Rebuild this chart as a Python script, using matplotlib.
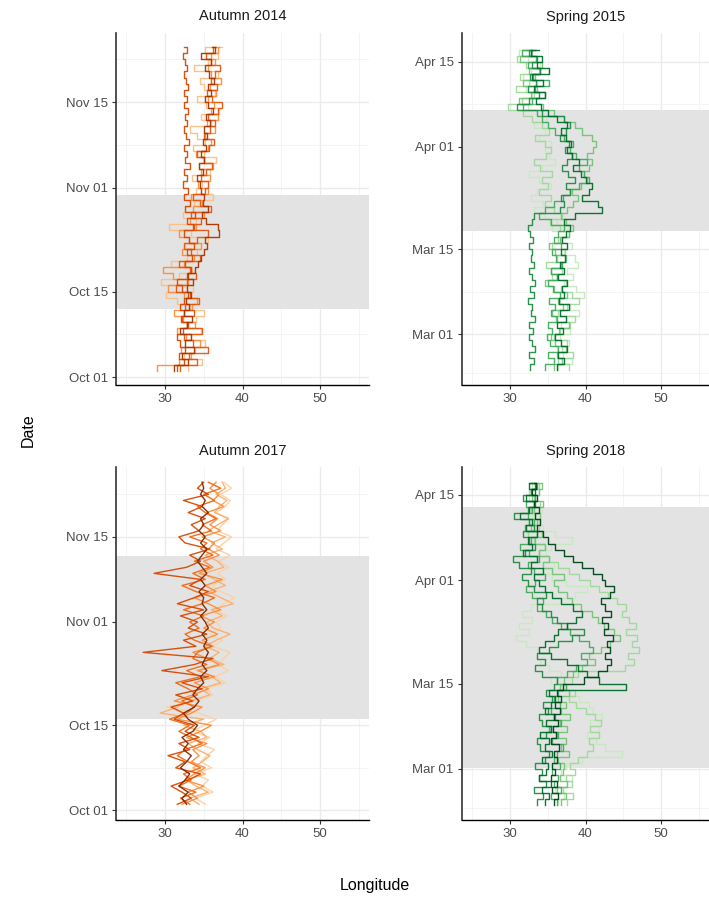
import numpy as np
import pandas as pd
import matplotlib
matplotlib.use("Agg")
import matplotlib.pyplot as plt
import matplotlib.dates as mdates

plt.rcParams['font.family'] = ['Liberation Sans', 'DejaVu Sans']

# ---------------- data: daily longitude per tracked bird ----------------
# Autumn 2014, Oct 02 - Nov 24
aut14_start = '2014-10-02'
aut14_colors = ['#FDBE85', '#FD8D3C', '#E6550D', '#D94801', '#A63603']
aut14_tracks = [
    [33.0, 34.8, 32.5, 33.9, 35.2, 33.3, 34.6, 32.8, 34.0,
     35.0, 33.2, 31.5, 30.2, 33.6, 29.5, 31.8, 33.5, 30.8, 32.9,
     34.2, 32.6, 35.5, 33.4, 30.5, 34.0, 32.3, 35.6, 33.8, 36.2, 34.0,
     34.8, 33.5, 35.8, 34.4, 36.6, 35.0, 33.6, 35.2, 34.1, 33.2,
     36.0, 34.6, 37.0, 35.3, 34.2, 36.4, 35.1, 34.5, 36.8, 33.8,
     35.6, 36.9, 35.2, 37.3],
    [29.0, 31.8, 33.4, 32.1, 34.5, 32.7, 31.5, 33.9, 32.3,
     31.2, 33.5, 34.2, 32.5, 30.4, 33.0, 31.0, 29.8, 32.5, 33.8,
     32.2, 34.6, 33.1, 31.8, 34.0, 33.2, 35.0, 33.6, 34.8, 33.4, 35.6,
     34.3, 35.8, 34.6, 36.2, 35.1, 34.0, 35.5, 36.0, 35.2, 36.5,
     35.4, 36.8, 35.9, 36.3, 35.5, 36.6, 35.8, 37.2, 36.0, 35.6,
     36.4, 35.9, 36.8, 37.0],
    [32.0, 34.2, 33.1, 35.5, 33.6, 32.4, 34.8, 33.0, 32.2,
     33.7, 32.6, 34.4, 33.2, 31.4, 32.8, 34.0, 33.2, 31.8, 34.5,
     33.4, 32.5, 34.1, 35.6, 33.8, 34.6, 33.3, 35.9, 34.5, 33.6, 35.2,
     35.6, 34.6, 35.3, 36.1, 35.0, 34.2, 35.7, 36.3, 35.1, 35.8,
     36.4, 35.6, 36.9, 37.3, 36.1, 35.4, 36.7, 35.9, 36.5, 37.1,
     36.0, 35.3, 36.2, 36.6],
    [31.5, 32.5, 31.8, 32.6, 32.0, 31.6, 32.3, 32.8, 32.1,
     32.5, 31.9, 32.4, 33.0, 32.2, 31.6, 32.8, 33.3, 32.6, 33.5,
     32.9, 33.8, 33.1, 32.4, 33.6, 32.8, 33.9, 32.6, 33.2, 32.5, 33.0,
     32.3, 32.8, 32.5, 33.2, 32.6, 32.9, 32.4, 33.1, 32.7, 32.4,
     32.9, 32.6, 33.0, 32.5, 32.8, 32.4, 33.0, 32.7, 32.5, 32.9,
     32.6, 32.3, 32.8, 32.4],
    [31.2, 33.0, 32.2, 33.8, 32.6, 33.4, 32.0, 32.9, 33.5,
     32.4, 33.1, 32.7, 33.3, 32.8, 33.6, 33.0, 33.9, 34.3, 34.6,
     35.0, 35.4, 35.2, 37.0, 36.8, 35.3, 34.8, 35.5, 34.9, 35.1, 34.6,
     34.5, 34.2, 34.9, 34.4, 35.0, 34.7, 35.3, 34.9, 35.4, 35.1,
     35.8, 35.3, 36.2, 35.6, 35.2, 36.0, 35.5, 36.3, 35.7, 35.2,
     35.9, 34.6, 36.4, 36.1],
]

# Spring 2015, Feb 23 - Apr 17
spr15_start = '2015-02-23'
spr15_colors = ['#C7E9C0', '#A1D99B', '#74C476', '#41AB5D', '#238B45', '#006D2C']
spr15_tracks = [
    [36.4, 38.2, 37.0, 36.2, 37.8, 36.6,
     38.0, 36.8, 37.4, 39.2, 38.0, 36.6, 39.8, 38.8, 37.2, 38.4,
     37.6, 39.0, 38.6, 37.2, 38.2, 36.8, 37.8, 35.6, 36.2, 34.6,
     33.2, 34.4, 32.8, 33.6, 35.4, 33.8, 32.6, 34.2, 36.0, 35.2, 34.6,
     35.4, 33.8, 34.6, 33.2, 34.8, 33.6, 32.4, 31.6, 33.0, 32.2,
     33.6, 31.8, 32.8, 34.0, 32.4, 31.2, 32.6],
    [37.8, 36.4, 38.4, 36.9, 37.5, 35.8,
     36.7, 37.9, 38.6, 36.4, 37.6, 39.2, 38.2, 36.8, 37.4, 35.6,
     36.9, 34.8, 36.2, 37.3, 35.6, 36.4, 37.8, 36.6, 35.3, 36.9,
     35.8, 34.6, 35.4, 33.8, 35.0, 34.2, 35.6, 34.0, 33.2, 34.8, 35.4,
     34.6, 33.4, 35.2, 34.2, 33.0, 31.8, 29.8, 31.6, 33.2, 30.8,
     32.6, 31.4, 33.8, 32.2, 31.0, 32.8, 31.6],
    [35.8, 36.9, 36.2, 37.4, 36.0, 35.4,
     36.5, 37.8, 36.1, 35.6, 37.0, 36.4, 37.6, 35.9, 34.7, 36.3,
     35.4, 36.8, 37.4, 36.0, 35.2, 36.6, 37.8, 38.4, 37.4, 36.8,
     37.6, 38.4, 39.0, 38.2, 39.4, 40.2, 39.8, 40.4, 40.8, 40.2, 41.0,
     41.4, 40.8, 39.6, 38.6, 37.2, 35.8, 34.4, 31.2, 32.8, 33.6,
     31.8, 33.4, 32.6, 34.2, 31.4, 33.0, 32.2],
    [34.6, 35.8, 35.0, 36.4, 35.3, 34.9,
     35.6, 35.1, 36.2, 35.4, 36.0, 35.2, 36.6, 35.7, 35.0, 36.3,
     35.5, 36.9, 36.1, 35.6, 36.8, 35.9, 36.4, 37.2, 35.4, 33.8,
     34.6, 35.8, 37.0, 38.0, 39.2, 40.4, 39.8, 39.2, 40.2, 38.8, 37.9,
     38.4, 37.2, 36.0, 35.1, 34.3, 33.6, 31.8, 32.9, 34.6, 33.4,
     35.2, 33.1, 34.0, 32.4, 33.5, 31.6, 33.0],
    [32.7, 33.2, 32.6, 33.4, 32.9, 32.5,
     33.1, 32.6, 33.3, 32.8, 33.0, 32.4, 33.2, 32.7, 33.4, 32.9,
     32.6, 33.2, 32.8, 33.0, 32.5, 33.1, 32.7, 32.4, 32.9, 33.2,
     36.6, 37.2, 36.8, 38.0, 37.4, 38.6, 37.7, 36.9, 37.5, 38.2, 37.3,
     37.8, 36.6, 37.4, 37.9, 37.1, 34.2, 30.9, 32.6, 33.8, 32.4,
     33.5, 32.7, 34.0, 32.9, 33.6, 32.5, 33.3],
    [36.2, 37.1, 36.4, 37.5, 36.8, 36.0,
     37.0, 36.3, 37.4, 36.7, 37.8, 36.5, 37.2, 36.9, 37.6, 36.4,
     37.1, 36.6, 37.3, 36.8, 37.5, 36.9, 37.4, 38.0, 37.2, 38.6,
     42.2, 41.6, 39.5, 40.4, 40.8, 40.0, 39.4, 38.4, 39.1, 38.2, 37.6,
     38.1, 37.4, 36.8, 37.5, 36.2, 35.0, 34.1, 33.5, 34.6, 33.2,
     34.4, 33.0, 35.2, 33.6, 34.3, 32.8, 33.9],
]

# Autumn 2017, Oct 02 - Nov 24
aut17_start = '2017-10-02'
aut17_colors = ['#FDD0A2', '#FDAE6B', '#FD8D3C', '#F16913', '#D94801', '#7F2704']
aut17_tracks = [
    [35.2, 34.0, 36.2, 34.8, 35.6, 33.8, 36.0, 34.6, 35.4,
     36.4, 34.2, 35.8, 33.6, 35.0, 36.6, 34.4, 30.2, 33.8, 36.2,
     35.4, 37.8, 36.4, 38.2, 36.8, 37.6, 38.4, 36.2, 37.4, 35.8, 37.2,
     36.6, 38.0, 36.4, 37.6, 39.0, 37.2, 36.0, 37.8, 36.8, 38.2,
     37.0, 38.4, 36.6, 37.6, 38.6, 36.8, 37.4, 38.2, 36.6, 37.8,
     38.4, 37.2, 38.6, 37.6],
    [34.4, 33.2, 35.6, 34.0, 32.8, 35.2, 33.6, 34.8, 35.8,
     34.2, 33.0, 35.4, 34.6, 32.4, 35.0, 29.4, 31.6, 33.2, 35.8,
     34.6, 37.2, 36.0, 34.4, 37.6, 35.8, 37.0, 35.2, 36.6, 38.4, 36.2,
     35.4, 37.4, 36.0, 38.8, 37.2, 35.6, 37.8, 36.4, 35.0, 37.6,
     36.8, 35.2, 37.4, 36.0, 37.8, 35.6, 36.8, 38.2, 36.4, 37.0,
     38.0, 36.6, 37.8, 37.4],
    [32.2, 34.2, 33.0, 35.0, 32.6, 33.8, 35.2, 33.4, 34.4,
     33.6, 35.4, 32.8, 34.6, 36.0, 31.6, 33.4, 34.8, 31.2, 33.6,
     35.6, 33.8, 36.4, 34.2, 37.0, 35.4, 33.6, 36.2, 34.8, 36.8, 35.0,
     36.4, 34.6, 37.2, 35.6, 33.8, 36.6, 35.2, 37.4, 34.4, 36.2,
     35.0, 37.0, 35.6, 36.4, 34.8, 37.2, 35.8, 36.8, 35.4, 37.6,
     36.2, 37.0, 35.8, 36.6],
    [33.2, 32.0, 34.0, 31.8, 33.4, 32.4, 34.6, 33.0, 31.6,
     32.6, 34.8, 33.4, 31.8, 33.2, 30.6, 32.8, 33.8, 32.2, 34.2,
     33.0, 31.4, 34.6, 32.8, 35.4, 33.6, 34.2, 36.0, 33.8, 32.6, 34.4,
     33.2, 35.0, 32.4, 34.8, 36.4, 34.0, 32.2, 35.2, 33.6, 35.8,
     33.8, 36.2, 34.6, 35.4, 33.2, 36.0, 34.8, 36.6, 35.2, 34.2,
     36.4, 35.0, 37.2, 35.6],
    [31.6, 33.4, 32.2, 30.8, 33.0, 34.6, 31.4, 32.6, 30.4,
     33.2, 31.8, 34.4, 32.6, 33.8, 31.2, 32.4, 30.8, 33.6, 31.4,
     34.8, 32.2, 35.6, 29.6, 33.8, 36.2, 27.2, 34.0, 32.4, 35.4, 33.0,
     34.2, 32.0, 35.0, 31.6, 33.8, 35.6, 33.2, 34.6, 28.6, 32.8,
     34.6, 33.2, 35.8, 32.6, 31.8, 34.4, 33.4, 35.2, 33.0, 34.8,
     32.4, 35.6, 34.2, 35.0],
    [32.8, 32.2, 33.0, 31.8, 32.6, 33.2, 32.0, 32.8, 33.4,
     32.4, 33.0, 32.2, 33.6, 34.2, 33.0, 32.4, 33.8, 34.4, 33.6,
     34.2, 35.0, 34.6, 35.4, 34.8, 35.2, 35.6, 35.0, 35.4, 34.8, 35.6,
     35.2, 34.6, 35.4, 34.8, 35.0, 34.4, 35.2, 34.6, 35.4, 34.8,
     34.2, 34.8, 35.4, 34.6, 35.2, 34.4, 35.0, 34.6, 35.6, 34.8,
     35.2, 34.6, 35.0, 34.8],
]

# Spring 2018, Feb 23 - Apr 17
spr18_start = '2018-02-23'
spr18_colors = ['#C7E9C0', '#A1D99B', '#74C476', '#41AB5D', '#238B45', '#006D2C', '#00441B']
spr18_tracks = [
    [36.4, 37.2, 36.0, 37.6, 38.2, 36.8,
     37.4, 39.6, 44.8, 42.6, 41.4, 40.2, 41.8, 40.6, 42.2, 41.0,
     40.4, 39.2, 38.0, 36.6, 35.4, 36.8, 35.2, 34.0, 35.4, 33.6,
     32.2, 30.8, 32.6, 31.2, 33.0, 31.6, 32.8, 36.8, 38.6, 40.2, 37.4,
     35.6, 34.2, 35.8, 33.6, 34.8, 35.4, 38.2, 36.0, 34.4, 33.8,
     33.0, 34.2, 33.4, 32.6, 33.8, 33.0, 33.6],
    [37.6, 38.4, 37.0, 38.2, 37.4, 38.6,
     38.0, 39.0, 40.2, 41.0, 40.4, 41.8, 40.6, 42.0, 41.2, 40.0,
     38.8, 37.8, 38.6, 37.4, 38.2, 39.0, 45.2, 46.4, 45.6, 47.0,
     46.2, 46.8, 45.4, 46.6, 45.8, 44.8, 45.4, 44.2, 43.0, 41.8, 40.6,
     39.2, 37.8, 36.4, 35.2, 33.8, 34.6, 33.2, 32.4, 33.8, 32.6,
     33.4, 32.8, 34.0, 33.2, 32.6, 33.8, 33.2],
    [36.8, 37.4, 36.2, 37.6, 36.6, 37.0,
     37.2, 36.4, 37.8, 36.8, 37.4, 36.2, 37.6, 36.6, 38.0, 36.8,
     37.4, 36.4, 37.8, 36.6, 37.2, 38.4, 39.6, 41.2, 40.4, 42.0,
     43.2, 44.6, 43.8, 42.4, 41.6, 40.8, 39.4, 38.2, 37.6, 36.4, 35.8,
     37.2, 35.6, 34.4, 35.2, 33.8, 34.6, 33.4, 34.2, 32.8, 33.6,
     34.0, 33.2, 34.4, 33.0, 33.8, 34.2, 33.4],
    [36.2, 35.4, 36.8, 35.8, 36.4, 35.6,
     36.6, 35.8, 36.2, 37.0, 35.6, 36.4, 35.2, 36.8, 36.0, 35.4,
     36.6, 35.8, 36.4, 37.4, 36.2, 37.6, 38.8, 40.2, 39.4, 41.0,
     40.4, 39.2, 38.0, 36.8, 35.6, 34.8, 33.6, 34.4, 33.0, 32.2, 33.4,
     34.6, 33.2, 32.4, 33.8, 32.6, 31.4, 32.8, 33.6, 32.0, 33.2,
     32.4, 33.0, 32.2, 33.4, 32.8, 33.6, 33.0],
    [33.6, 34.4, 33.2, 34.8, 33.8, 34.2,
     33.4, 34.6, 35.2, 34.0, 33.6, 34.8, 35.4, 34.2, 33.8, 35.0,
     34.4, 35.6, 34.8, 35.8, 36.2, 34.2, 33.4, 34.6, 33.6, 35.2,
     36.4, 38.2, 39.8, 37.6, 36.2, 35.4, 34.2, 33.6, 34.8, 33.2, 32.4,
     31.6, 32.8, 31.2, 30.4, 32.0, 33.4, 32.6, 31.8, 33.2, 32.6,
     30.6, 32.4, 33.4, 31.8, 32.8, 33.4, 32.6],
    [34.6, 35.2, 34.2, 35.4, 33.8, 34.8,
     35.0, 34.2, 35.6, 34.6, 35.2, 34.0, 35.4, 34.8, 35.8, 34.6,
     35.4, 36.0, 35.2, 45.4, 41.8, 40.2, 39.0, 37.6, 35.4, 33.8,
     34.6, 35.8, 36.4, 37.6, 38.8, 39.6, 38.4, 36.8, 35.6, 34.6, 33.8,
     33.2, 34.4, 32.8, 33.6, 31.8, 33.0, 32.4, 33.6, 32.2, 33.0,
     31.4, 32.6, 33.2, 32.2, 33.4, 32.6, 32.9],
    [35.8, 36.4, 35.6, 36.2, 35.4, 36.0,
     35.6, 36.3, 35.8, 36.5, 35.5, 36.1, 35.7, 36.4, 35.9, 36.6,
     36.0, 36.8, 36.2, 37.0, 39.8, 41.6, 42.8, 43.4, 42.6, 43.2,
     42.8, 43.6, 42.4, 43.0, 42.2, 43.4, 42.6, 42.0, 43.2, 43.8, 42.6,
     42.2, 41.0, 39.6, 38.4, 37.2, 36.0, 35.0, 34.4, 33.6, 34.0,
     33.4, 33.8, 33.2, 33.6, 33.0, 33.5, 33.2],
]

# panel settings: title, shaded migration window, axis date range, date ticks
panel_titles = ['Autumn 2014', 'Spring 2015', 'Autumn 2017', 'Spring 2018']
panel_starts = [aut14_start, spr15_start, aut17_start, spr18_start]
panel_tracks = [aut14_tracks, spr15_tracks, aut17_tracks, spr18_tracks]
panel_colors = [aut14_colors, spr15_colors, aut17_colors, spr18_colors]
panel_styles = ['steps-pre', 'steps-pre', 'default', 'steps-pre']
shade_ranges = [('2014-10-12 05:00', '2014-10-30 20:00'),
                ('2015-03-18 00:00', '2015-04-07 03:00'),
                ('2017-10-16 00:00', '2017-11-11 22:00'),
                ('2018-03-01 05:00', '2018-04-13 00:00')]
date_limits = [('2014-09-29 17:00', '2014-11-26 07:00'),
               ('2015-02-20 14:00', '2015-04-19 19:00'),
               ('2017-09-29 10:00', '2017-11-26 12:00'),
               ('2018-02-20 14:00', '2018-04-19 14:00')]
major_ticks = [['2014-10-01', '2014-10-15', '2014-11-01', '2014-11-15'],
               ['2015-03-01', '2015-03-15', '2015-04-01', '2015-04-15'],
               ['2017-10-01', '2017-10-15', '2017-11-01', '2017-11-15'],
               ['2018-03-01', '2018-03-15', '2018-04-01', '2018-04-15']]
minor_ticks = [['2014-10-08', '2014-10-23 12:00', '2014-11-08', '2014-11-22'],
               ['2015-02-22 12:00', '2015-03-08', '2015-03-23 12:00', '2015-04-08'],
               ['2017-10-08', '2017-10-23 12:00', '2017-11-08', '2017-11-22'],
               ['2018-02-22 12:00', '2018-03-08', '2018-03-23 12:00', '2018-04-08']]
lon_limits = (23.7, 56.3)
lon_major = [30, 40, 50]
lon_minor = [25, 35, 45, 55]

W, H = 709, 897
fig = plt.figure(figsize=(W / 100, H / 100), dpi=100)

# panel boxes in pixels: left, top, right, bottom
boxes = [(116, 33, 369, 385), (462, 33, 709, 385),
         (116, 467, 369, 820), (462, 467, 709, 820)]

for i in range(4):
    l, t, r, b = boxes[i]
    ax = fig.add_axes([l / W, 1 - b / H, (r - l) / W, (b - t) / H])
    ax.set_facecolor('white')

    # grid
    for v in lon_major:
        ax.axvline(v, color='#EBEBEB', lw=1.0, zorder=0)
    for v in lon_minor:
        ax.axvline(v, color='#F2F2F2', lw=0.6, zorder=0)
    for d in major_ticks[i]:
        ax.axhline(pd.Timestamp(d), color='#EBEBEB', lw=1.0, zorder=0)
    for d in minor_ticks[i]:
        ax.axhline(pd.Timestamp(d), color='#F2F2F2', lw=0.6, zorder=0)

    # shaded window
    s0, s1 = shade_ranges[i]
    ax.axhspan(pd.Timestamp(s0), pd.Timestamp(s1), color='#E3E3E3', lw=0, zorder=1)

    days = pd.date_range(panel_starts[i], periods=len(panel_tracks[i][0]), freq='D')
    for lon, col in zip(panel_tracks[i], panel_colors[i]):
        ax.plot(lon, days, color=col, lw=1.0, drawstyle=panel_styles[i],
                alpha=0.95, zorder=2)

    ax.set_xlim(*lon_limits)
    ax.set_ylim(pd.Timestamp(date_limits[i][0]), pd.Timestamp(date_limits[i][1]))
    ax.set_xticks(lon_major)
    ax.set_yticks([pd.Timestamp(d) for d in major_ticks[i]])
    ax.yaxis.set_major_formatter(mdates.DateFormatter('%b %d'))

    for side in ['top', 'right']:
        ax.spines[side].set_visible(False)
    ax.spines['left'].set_color('#333333')
    ax.spines['left'].set_linewidth(1.2)
    ax.spines['bottom'].set_color('black')
    ax.spines['bottom'].set_linewidth(1.0)
    ax.tick_params(axis='both', length=3, width=0.8, color='#333333',
                   labelcolor='#4D4D4D', labelsize=9.5, pad=3)
    ax.set_title(panel_titles[i], fontsize=10.5, color='#1A1A1A', pad=9)

fig.text(28 / W, 1 - 430 / H, 'Date', rotation=90, ha='center', va='center',
         fontsize=11.5, color='black')
fig.text(375 / W, 1 - 885 / H, 'Longitude', ha='center', va='center',
         fontsize=11.5, color='black')

fig.savefig('out.png', dpi=100, facecolor='white')
